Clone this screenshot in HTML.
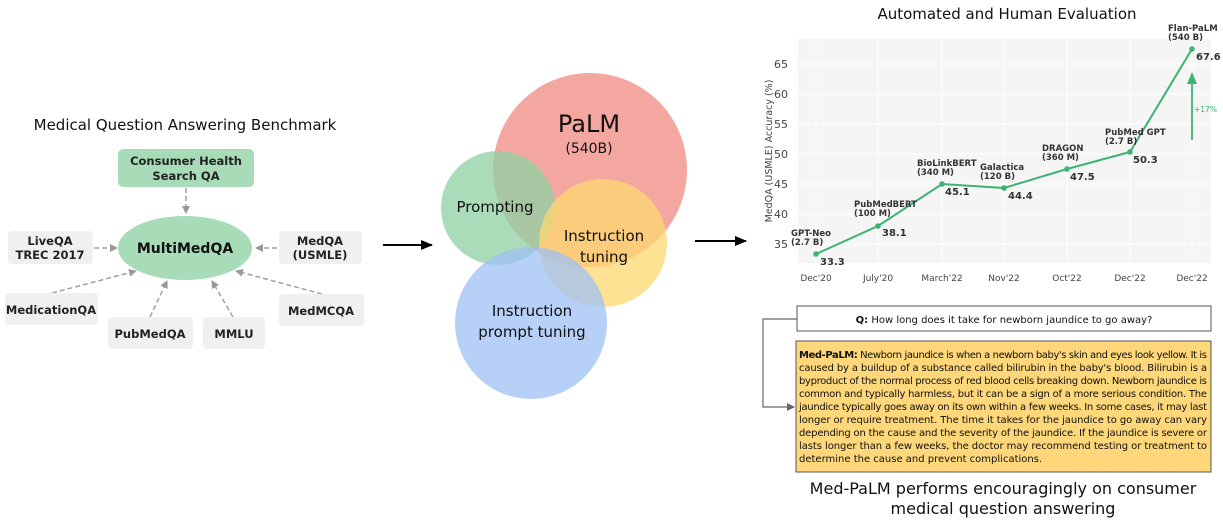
<!DOCTYPE html>
<html><head><meta charset="utf-8"><style>
body{margin:0;background:#fff;width:1223px;height:523px;overflow:hidden}
svg text{font-family:"DejaVu Sans","Liberation Sans",sans-serif}
</style></head><body>
<svg width="1223" height="523" xmlns="http://www.w3.org/2000/svg">
<defs>
<marker id="ag" markerWidth="8" markerHeight="8" refX="7" refY="4" orient="auto" markerUnits="userSpaceOnUse"><path d="M0,0 L8,4 L0,8 z" fill="#999"/></marker>
<marker id="ab" markerWidth="12" markerHeight="10" refX="11" refY="5" orient="auto" markerUnits="userSpaceOnUse"><path d="M0,0 L12,5 L0,10 z" fill="#000"/></marker>
<marker id="ad" markerWidth="8" markerHeight="8" refX="7" refY="4" orient="auto" markerUnits="userSpaceOnUse"><path d="M0,0 L8,4 L0,8 z" fill="#666"/></marker>
</defs>

<!-- Left -->
<text x="185" y="130" font-size="15" text-anchor="middle" fill="#111">Medical Question Answering Benchmark</text>
<g stroke="#a0a0a0" stroke-width="1.5" stroke-dasharray="5,3" fill="none" marker-end="url(#ag)">
<line x1="186" y1="188" x2="186" y2="213"/>
<line x1="94" y1="248" x2="117" y2="248"/>
<line x1="277" y1="248" x2="256" y2="248"/>
<line x1="52" y1="293" x2="136" y2="271"/>
<line x1="150" y1="317" x2="167" y2="281"/>
<line x1="233" y1="317" x2="212" y2="281"/>
<line x1="322" y1="294" x2="236" y2="271"/>
</g>
<rect x="118" y="149" width="136" height="38" rx="5" fill="#a8dcb8"/>
<text font-size="11.5" font-weight="bold" fill="#222" text-anchor="middle"><tspan x="186" y="165">Consumer Health</tspan><tspan x="186" y="180">Search QA</tspan></text>
<ellipse cx="185" cy="248" rx="67" ry="32" fill="#a8dcb8"/>
<text x="185" y="253" font-size="14" font-weight="bold" text-anchor="middle" fill="#111">MultiMedQA</text>
<g fill="#f0f0f0">
<rect x="8" y="231" width="85" height="33" rx="4"/>
<rect x="279" y="231" width="83" height="33" rx="4"/>
<rect x="5" y="293" width="93" height="32" rx="4"/>
<rect x="108" y="317" width="85" height="32" rx="4"/>
<rect x="203" y="317" width="62" height="32" rx="4"/>
<rect x="279" y="294" width="85" height="32" rx="4"/>
</g>
<g font-size="11.5" font-weight="bold" fill="#222" text-anchor="middle">
<text><tspan x="50" y="245">LiveQA</tspan><tspan x="50" y="259">TREC 2017</tspan></text>
<text><tspan x="320" y="245">MedQA</tspan><tspan x="320" y="259">(USMLE)</tspan></text>
<text x="51" y="314">MedicationQA</text>
<text x="150" y="338">PubMedQA</text>
<text x="234" y="338">MMLU</text>
<text x="321" y="315">MedMCQA</text>
</g>

<line x1="383" y1="245" x2="432" y2="245" stroke="#000" stroke-width="2" marker-end="url(#ab)"/>
<line x1="695" y1="241" x2="746" y2="241" stroke="#000" stroke-width="2" marker-end="url(#ab)"/>

<!-- Venn -->
<circle cx="590" cy="170" r="97" fill="#f08a80" fill-opacity="0.75"/>
<circle cx="498" cy="208" r="57" fill="#8fd0a2" fill-opacity="0.75"/>
<circle cx="603" cy="243" r="64" fill="#fdd870" fill-opacity="0.75"/>
<circle cx="531" cy="323" r="76" fill="#9fc0f4" fill-opacity="0.75"/>
<g fill="#111" text-anchor="middle">
<text x="589" y="132" font-size="24">PaLM</text>
<text x="589" y="153" font-size="14">(540B)</text>
<text x="495" y="212" font-size="15">Prompting</text>
<text font-size="15"><tspan x="604" y="241">Instruction</tspan><tspan x="604" y="262">tuning</tspan></text>
<text font-size="15"><tspan x="532" y="316">Instruction</tspan><tspan x="532" y="337">prompt tuning</tspan></text>
</g>

<!-- Chart -->
<text x="1007" y="19" font-size="15" text-anchor="middle" fill="#111">Automated and Human Evaluation</text>
<rect x="798" y="39" width="413" height="224" fill="#f5f5f5"/>
<g stroke="#fff" stroke-width="1">
<line x1="798" y1="64" x2="1211" y2="64"/><line x1="798" y1="94" x2="1211" y2="94"/><line x1="798" y1="124" x2="1211" y2="124"/><line x1="798" y1="154" x2="1211" y2="154"/><line x1="798" y1="184" x2="1211" y2="184"/><line x1="798" y1="214" x2="1211" y2="214"/><line x1="798" y1="244" x2="1211" y2="244"/>
<line x1="816" y1="39" x2="816" y2="263"/><line x1="878" y1="39" x2="878" y2="263"/><line x1="942" y1="39" x2="942" y2="263"/><line x1="1004" y1="39" x2="1004" y2="263"/><line x1="1067" y1="39" x2="1067" y2="263"/><line x1="1130" y1="39" x2="1130" y2="263"/><line x1="1192" y1="39" x2="1192" y2="263"/>
</g>
<g font-size="11" fill="#444" text-anchor="end">
<text x="788" y="68">65</text><text x="788" y="98">60</text><text x="788" y="128">55</text><text x="788" y="158">50</text><text x="788" y="188">45</text><text x="788" y="218">40</text><text x="788" y="248">35</text>
</g>
<text transform="translate(772,151) rotate(-90)" font-size="9.5" fill="#444" text-anchor="middle">MedQA (USMLE) Accuracy (%)</text>
<g font-size="9" fill="#444" text-anchor="middle">
<text x="816" y="281">Dec'20</text><text x="878" y="281">July'20</text><text x="942" y="281">March'22</text><text x="1004" y="281">Nov'22</text><text x="1067" y="281">Oct'22</text><text x="1130" y="281">Dec'22</text><text x="1192" y="281">Dec'22</text>
</g>
<polyline points="816,254 878,226 942,184 1004,188 1067,169 1130,152 1192,49" fill="none" stroke="#3cb371" stroke-width="2"/>
<g fill="#3cb371">
<circle cx="816" cy="254" r="2.8"/><circle cx="878" cy="226" r="2.8"/><circle cx="942" cy="184" r="2.8"/><circle cx="1004" cy="188" r="2.8"/><circle cx="1067" cy="169" r="2.8"/><circle cx="1130" cy="152" r="2.8"/><circle cx="1192" cy="49" r="2.8"/>
</g>
<line x1="1192" y1="140" x2="1192" y2="82" stroke="#3cb371" stroke-width="1.8"/>
<path d="M1187,84 L1192,72 L1197,84 z" fill="#3cb371"/>
<text x="1194" y="112" font-size="7.5" fill="#3cb371">+17%</text>
<g font-size="8.5" font-weight="bold" fill="#333">
<text><tspan x="791" y="236">GPT-Neo</tspan><tspan x="791" y="245">(2.7 B)</tspan></text>
<text><tspan x="854" y="207">PubMedBERT</tspan><tspan x="854" y="216">(100 M)</tspan></text>
<text><tspan x="917" y="166">BioLinkBERT</tspan><tspan x="917" y="175">(340 M)</tspan></text>
<text><tspan x="980" y="170">Galactica</tspan><tspan x="980" y="179">(120 B)</tspan></text>
<text><tspan x="1042" y="151">DRAGON</tspan><tspan x="1042" y="160">(360 M)</tspan></text>
<text><tspan x="1105" y="135">PubMed GPT</tspan><tspan x="1105" y="144">(2.7 B)</tspan></text>
<text><tspan x="1168" y="31">Flan-PaLM</tspan><tspan x="1168" y="40">(540 B)</tspan></text>
</g>
<g font-size="10" font-weight="bold" fill="#333">
<text x="820" y="265">33.3</text><text x="882" y="236">38.1</text><text x="945" y="195">45.1</text><text x="1008" y="199">44.4</text><text x="1070" y="180">47.5</text><text x="1133" y="163">50.3</text><text x="1196" y="60">67.6</text>
</g>

<!-- QA -->
<polyline points="797,319 763,319 763,407 794,407" fill="none" stroke="#666" stroke-width="1.2" marker-end="url(#ad)"/>
<rect x="797" y="306" width="414" height="25" fill="#fff" stroke="#555" stroke-width="1"/>
<text x="1004" y="323" font-size="10" text-anchor="middle" fill="#111" font-family="Liberation Sans,sans-serif"><tspan font-weight="bold">Q:</tspan> How long does it take for newborn jaundice to go away?</text>
<rect x="796" y="341" width="415" height="131" fill="#fdd77a" stroke="#555" stroke-width="1"/>
<g font-size="10" fill="#111" font-family="Liberation Sans,sans-serif">
<text x="799" y="358" textLength="408" lengthAdjust="spacing"><tspan font-weight="bold">Med-PaLM:</tspan> Newborn jaundice is when a newborn baby's skin and eyes look yellow. It is</text>
<text x="799" y="371" textLength="408" lengthAdjust="spacing">caused by a buildup of a substance called bilirubin in the baby's blood. Bilirubin is a</text>
<text x="799" y="384" textLength="408" lengthAdjust="spacing">byproduct of the normal process of red blood cells breaking down. Newborn jaundice is</text>
<text x="799" y="397" textLength="408" lengthAdjust="spacing">common and typically harmless, but it can be a sign of a more serious condition. The</text>
<text x="799" y="410" textLength="408" lengthAdjust="spacing">jaundice typically goes away on its own within a few weeks. In some cases, it may last</text>
<text x="799" y="423" textLength="408" lengthAdjust="spacing">longer or require treatment. The time it takes for the jaundice to go away can vary</text>
<text x="799" y="436" textLength="408" lengthAdjust="spacing">depending on the cause and the severity of the jaundice. If the jaundice is severe or</text>
<text x="799" y="449" textLength="408" lengthAdjust="spacing">lasts longer than a few weeks, the doctor may recommend testing or treatment to</text>
<text x="799" y="462">determine the cause and prevent complications.</text>
</g>
<g font-size="16" fill="#111" text-anchor="middle">
<text x="1003" y="494">Med-PaLM performs encouragingly on consumer</text>
<text x="1003" y="514">medical question answering</text>
</g>
</svg>
</body></html>
